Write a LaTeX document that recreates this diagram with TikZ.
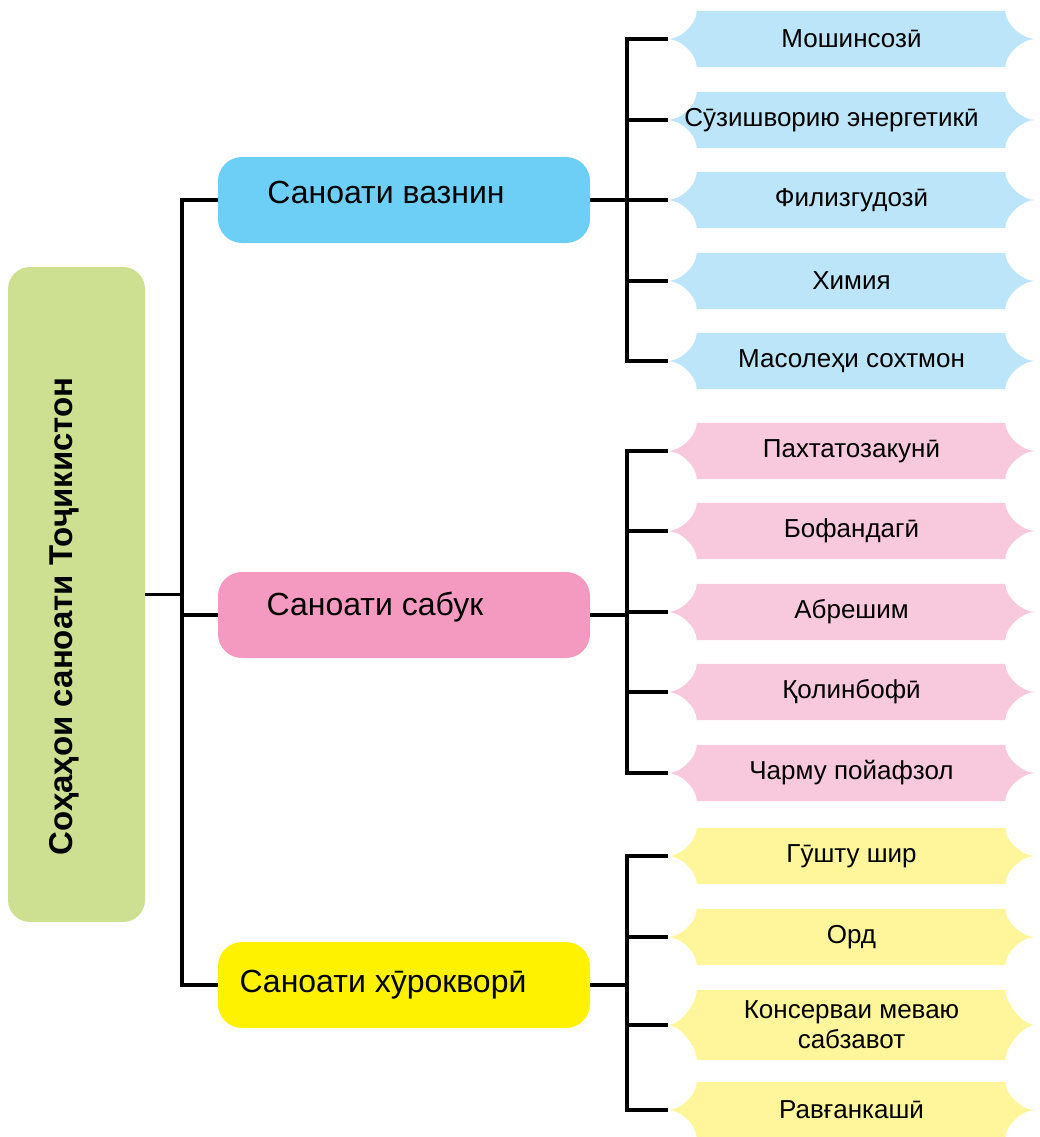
\documentclass[tikz,border=0pt]{standalone}
\usepackage{fontspec}
\setmainfont{Liberation Sans}
\usetikzlibrary{backgrounds}
\definecolor{rootgreen}{RGB}{205,224,145}
\definecolor{midblue}{RGB}{109,207,246}
\definecolor{leafblue}{RGB}{188,229,249}
\definecolor{midpink}{RGB}{244,154,193}
\definecolor{leafpink}{RGB}{248,200,220}
\definecolor{midyellow}{RGB}{255,242,0}
\definecolor{leafyellow}{RGB}{255,245,155}
\newcommand{\lift}[2]{\raisebox{#1}[\height][\depth]{#2}}

\begin{document}
\begin{tikzpicture}[x=1pt,y=-1pt,
  mid/.style={rounded corners=24pt,minimum width=372pt,minimum height=86pt,inner sep=0pt,font=\fontsize{32}{36}\selectfont},
  leaf/.style={minimum width=367pt,minimum height=56pt,inner sep=0pt,align=center,font=\fontsize{26}{30}\selectfont},
  link/.style={line width=3.5pt}]
\useasboundingbox (0,0) rectangle (1039,1137);
% root and the three branches
\node[fill=rootgreen,rounded corners=22pt,minimum width=137pt,minimum height=655pt,inner sep=0pt,
  font=\bfseries\fontsize{33}{37}\selectfont] (root) at (76.5,594.5)
  {\rotatebox{90}{\lift{12pt}{Соҳаҳои саноати Тоҷикистон}\hspace*{44pt}}};
\node[mid,fill=midblue] (heavy) at (404,200) {\lift{8pt}{Саноати вазнин}\hspace*{36pt}};
\node[mid,fill=midpink] (light) at (404,615) {\lift{8pt}{Саноати сабук}\hspace*{58pt}};
\node[mid,fill=midyellow] (food) at (404,985) {Саноати хӯрокворӣ\hspace*{42pt}};
% leaves
\foreach \n/\y/\t in {h1/39/Мошинсозӣ, h2/120/Сӯзишворию энергетикӣ\hspace*{40pt}, h3/200/Филизгудозӣ,
    h4/281/Химия, h5/361/Масолеҳи сохтмон,
    l1/451/Пахтатозакунӣ, l2/531/Бофандагӣ, l3/612/Абрешим, l4/692/Қолинбофӣ, l5/773/Чарму пойафзол,
    f1/856/Гӯшту шир, f2/937/Орд, f4/1110/Равғанкашӣ}
  \node[leaf] (\n) at (851.5,\y) {\t};
\node[leaf,minimum height=70pt] (f3) at (851.5,1025) {Консерваи меваю\\сабзавот};
\begin{scope}[on background layer]
\foreach \n/\c in {h1/leafblue,h2/leafblue,h3/leafblue,h4/leafblue,h5/leafblue,
    l1/leafpink,l2/leafpink,l3/leafpink,l4/leafpink,l5/leafpink,
    f1/leafyellow,f2/leafyellow,f3/leafyellow,f4/leafyellow}
  \fill[\c] (\n.west) .. controls ([xshift=13pt]\n.west) and ([xshift=29pt,yshift=-13pt]\n.north west) .. ([xshift=29pt]\n.north west)
    -- ([xshift=-30pt]\n.north east) .. controls ([xshift=-30pt,yshift=-13pt]\n.north east) and ([xshift=-13pt]\n.east) .. (\n.east)
    .. controls ([xshift=-13pt]\n.east) and ([xshift=-30pt,yshift=13pt]\n.south east) .. ([xshift=-30pt]\n.south east)
    -- ([xshift=29pt]\n.south west) .. controls ([xshift=29pt,yshift=13pt]\n.south west) and ([xshift=13pt]\n.west) .. (\n.west) -- cycle;
\end{scope}
% trunk
\coordinate (trunk) at (182,0);
\coordinate (bus) at (627,0);
\draw[link] (root.east) -- (trunk |- root.east);
\draw[link] (heavy.west) -- (trunk |- heavy.west) -- (trunk |- food.west) -- (food.west);
\draw[link] (light.west) -- (trunk |- light.west);
% buses to the leaves
\draw[link] (heavy.east) -- (bus |- heavy.east);
\draw[link] (h1.west) -- (bus |- h1.west) -- (bus |- h5.west) -- (h5.west);
\foreach \n in {h2,h3,h4} \draw[link] (\n.west) -- (bus |- \n.west);
\draw[link] (light.east) -- (bus |- light.east);
\draw[link] (l1.west) -- (bus |- l1.west) -- (bus |- l5.west) -- (l5.west);
\foreach \n in {l2,l3,l4} \draw[link] (\n.west) -- (bus |- \n.west);
\draw[link] (food.east) -- (bus |- food.east);
\draw[link] (f1.west) -- (bus |- f1.west) -- (bus |- f4.west) -- (f4.west);
\draw[link] (f2.west) -- (bus |- f2.west);
\draw[link] (f3.west) -- (bus |- f3.west);
\end{tikzpicture}
\end{document}
